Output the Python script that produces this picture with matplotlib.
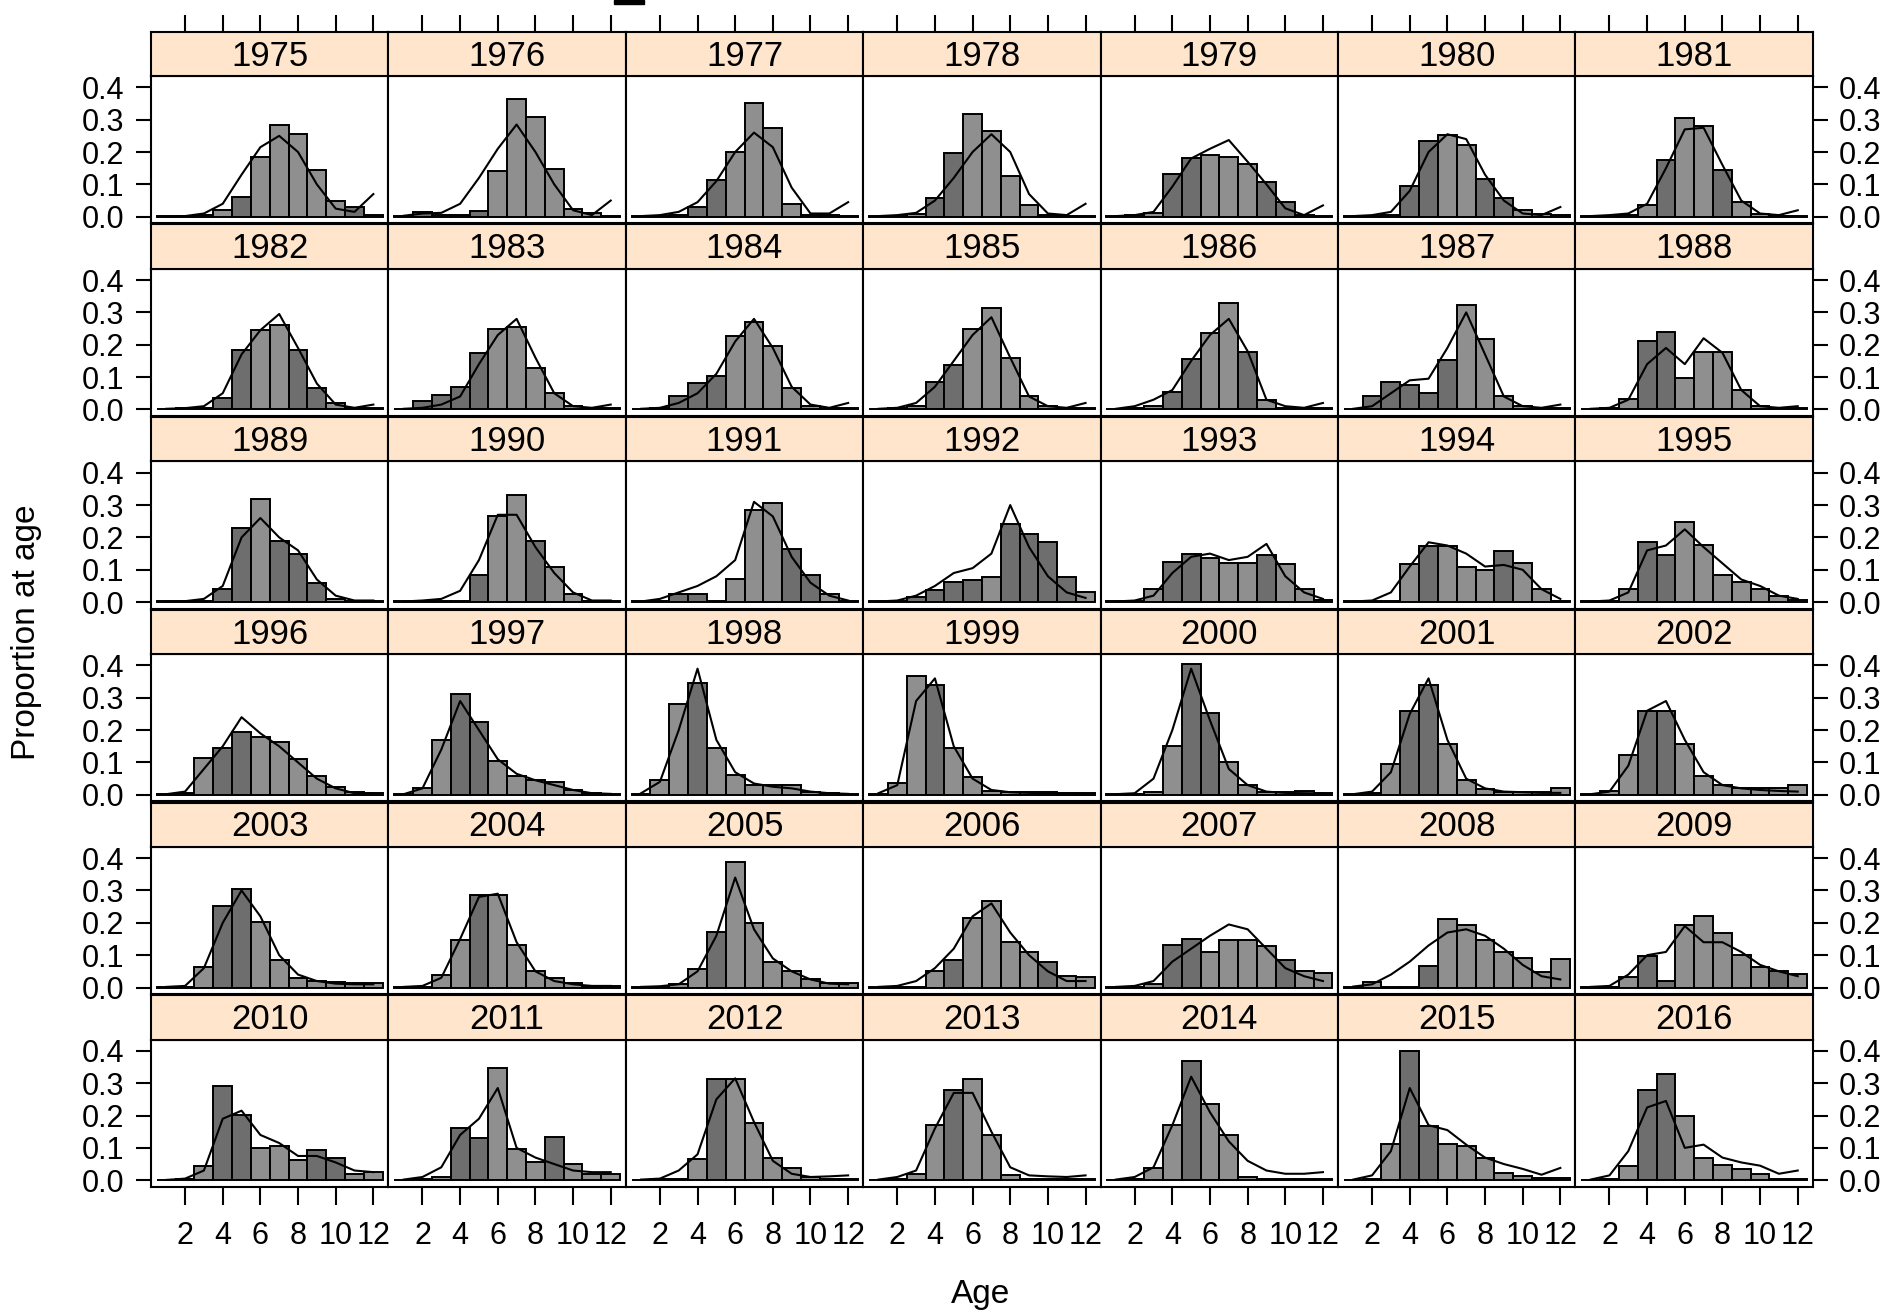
import numpy as np
import matplotlib
matplotlib.use("Agg")
import matplotlib.pyplot as plt
from matplotlib.patches import Rectangle

plt.rcParams['font.family'] = ['Liberation Sans', 'DejaVu Sans']

# ages 1..12, one row per year (observed proportion at age and model fit)
ages = np.arange(1, 13)
years = list(range(1975, 2017))

observed = [
    [0.003, 0.003, 0.005, 0.02, 0.06, 0.185, 0.285, 0.255, 0.145, 0.05, 0.03, 0.005],
    [0.003, 0.015, 0.005, 0.005, 0.018, 0.14, 0.365, 0.307, 0.146, 0.025, 0.01, 0.003],
    [0.002, 0.003, 0.005, 0.03, 0.113, 0.2, 0.352, 0.273, 0.04, 0.005, 0.005, 0.003],
    [0.002, 0.003, 0.008, 0.057, 0.196, 0.318, 0.266, 0.126, 0.036, 0.005, 0.003, 0.003],
    [0.002, 0.004, 0.012, 0.132, 0.182, 0.19, 0.186, 0.163, 0.108, 0.044, 0.005, 0.003],
    [0.002, 0.003, 0.005, 0.095, 0.233, 0.253, 0.222, 0.118, 0.057, 0.02, 0.008, 0.005],
    [0.002, 0.003, 0.004, 0.037, 0.174, 0.306, 0.279, 0.143, 0.044, 0.008, 0.003, 0.003],
    [0.002, 0.003, 0.005, 0.035, 0.185, 0.245, 0.26, 0.185, 0.065, 0.02, 0.005, 0.005],
    [0.002, 0.025, 0.045, 0.07, 0.175, 0.25, 0.255, 0.128, 0.05, 0.01, 0.005, 0.003],
    [0.002, 0.003, 0.043, 0.082, 0.103, 0.228, 0.27, 0.197, 0.067, 0.01, 0.005, 0.005],
    [0.002, 0.003, 0.01, 0.084, 0.138, 0.25, 0.313, 0.16, 0.043, 0.01, 0.003, 0.003],
    [0.002, 0.003, 0.01, 0.055, 0.155, 0.237, 0.328, 0.177, 0.029, 0.005, 0.003, 0.003],
    [0.002, 0.04, 0.085, 0.077, 0.05, 0.152, 0.323, 0.217, 0.04, 0.01, 0.005, 0.005],
    [0.002, 0.005, 0.033, 0.21, 0.238, 0.098, 0.177, 0.177, 0.06, 0.01, 0.005, 0.005],
    [0.002, 0.003, 0.005, 0.04, 0.23, 0.32, 0.19, 0.15, 0.058, 0.01, 0.005, 0.005],
    [0.002, 0.003, 0.003, 0.005, 0.085, 0.265, 0.33, 0.19, 0.11, 0.025, 0.005, 0.005],
    [0.002, 0.003, 0.025, 0.025, 0.005, 0.07, 0.285, 0.305, 0.165, 0.085, 0.025, 0.005],
    [0.002, 0.003, 0.015, 0.037, 0.062, 0.068, 0.078, 0.242, 0.21, 0.185, 0.078, 0.03],
    [0.002, 0.003, 0.04, 0.125, 0.15, 0.135, 0.12, 0.12, 0.145, 0.117, 0.042, 0.008],
    [0.002, 0.003, 0.003, 0.117, 0.173, 0.175, 0.11, 0.1, 0.158, 0.122, 0.04, 0.005],
    [0.002, 0.003, 0.04, 0.185, 0.145, 0.247, 0.178, 0.085, 0.062, 0.042, 0.02, 0.008],
    [0.002, 0.005, 0.115, 0.145, 0.195, 0.18, 0.163, 0.11, 0.057, 0.025, 0.008, 0.005],
    [0.002, 0.02, 0.17, 0.313, 0.225, 0.105, 0.057, 0.046, 0.039, 0.015, 0.005, 0.003],
    [0.002, 0.046, 0.28, 0.345, 0.144, 0.062, 0.029, 0.029, 0.029, 0.01, 0.005, 0.003],
    [0.002, 0.036, 0.368, 0.338, 0.146, 0.055, 0.012, 0.008, 0.008, 0.008, 0.005, 0.005],
    [0.002, 0.003, 0.008, 0.15, 0.404, 0.253, 0.103, 0.029, 0.008, 0.008, 0.012, 0.006],
    [0.002, 0.005, 0.095, 0.258, 0.338, 0.157, 0.046, 0.019, 0.008, 0.008, 0.008, 0.021],
    [0.002, 0.012, 0.122, 0.258, 0.26, 0.157, 0.057, 0.029, 0.02, 0.02, 0.02, 0.029],
    [0.002, 0.003, 0.065, 0.253, 0.305, 0.204, 0.085, 0.029, 0.02, 0.016, 0.013, 0.013],
    [0.002, 0.003, 0.04, 0.147, 0.287, 0.287, 0.132, 0.052, 0.029, 0.013, 0.005, 0.005],
    [0.002, 0.003, 0.01, 0.057, 0.173, 0.388, 0.2, 0.08, 0.052, 0.026, 0.013, 0.013],
    [0.002, 0.003, 0.003, 0.052, 0.085, 0.214, 0.268, 0.14, 0.111, 0.078, 0.037, 0.034],
    [0.002, 0.003, 0.01, 0.132, 0.15, 0.111, 0.147, 0.147, 0.127, 0.085, 0.05, 0.044],
    [0.002, 0.018, 0.003, 0.003, 0.068, 0.212, 0.194, 0.147, 0.109, 0.09, 0.047, 0.089],
    [0.002, 0.003, 0.034, 0.096, 0.019, 0.194, 0.22, 0.168, 0.101, 0.065, 0.05, 0.041],
    [0.002, 0.003, 0.043, 0.292, 0.203, 0.1, 0.107, 0.063, 0.092, 0.07, 0.02, 0.025],
    [0.002, 0.003, 0.01, 0.16, 0.13, 0.348, 0.097, 0.056, 0.133, 0.049, 0.018, 0.018],
    [0.002, 0.003, 0.003, 0.067, 0.314, 0.314, 0.177, 0.07, 0.039, 0.01, 0.005, 0.005],
    [0.002, 0.003, 0.02, 0.17, 0.28, 0.314, 0.139, 0.015, 0.005, 0.005, 0.005, 0.005],
    [0.002, 0.003, 0.039, 0.17, 0.37, 0.237, 0.139, 0.01, 0.003, 0.003, 0.003, 0.003],
    [0.002, 0.003, 0.113, 0.4, 0.168, 0.113, 0.105, 0.07, 0.023, 0.012, 0.008, 0.008],
    [0.002, 0.003, 0.043, 0.279, 0.328, 0.2, 0.07, 0.046, 0.036, 0.018, 0.005, 0.003],
]

fitted = [
    [0.0, 0.002, 0.01, 0.04, 0.13, 0.215, 0.25, 0.2, 0.1, 0.025, 0.015, 0.07],
    [0.003, 0.01, 0.012, 0.04, 0.12, 0.21, 0.285, 0.2, 0.1, 0.02, 0.005, 0.05],
    [0.002, 0.005, 0.015, 0.045, 0.11, 0.2, 0.26, 0.215, 0.09, 0.01, 0.01, 0.045],
    [0.002, 0.005, 0.012, 0.05, 0.12, 0.2, 0.255, 0.2, 0.07, 0.01, 0.005, 0.04],
    [0.002, 0.005, 0.015, 0.093, 0.18, 0.21, 0.237, 0.17, 0.1, 0.026, 0.005, 0.035],
    [0.002, 0.005, 0.015, 0.08, 0.2, 0.255, 0.24, 0.13, 0.05, 0.01, 0.005, 0.03],
    [0.002, 0.005, 0.01, 0.04, 0.15, 0.27, 0.275, 0.16, 0.05, 0.01, 0.005, 0.02],
    [0.002, 0.004, 0.01, 0.05, 0.17, 0.245, 0.295, 0.19, 0.08, 0.015, 0.005, 0.015],
    [0.002, 0.005, 0.015, 0.04, 0.14, 0.23, 0.28, 0.16, 0.05, 0.01, 0.005, 0.015],
    [0.002, 0.005, 0.02, 0.05, 0.11, 0.21, 0.28, 0.19, 0.07, 0.015, 0.005, 0.02],
    [0.002, 0.005, 0.02, 0.07, 0.15, 0.23, 0.285, 0.16, 0.04, 0.01, 0.005, 0.02],
    [0.002, 0.01, 0.03, 0.06, 0.15, 0.23, 0.28, 0.18, 0.03, 0.01, 0.005, 0.02],
    [0.002, 0.01, 0.05, 0.09, 0.095, 0.19, 0.3, 0.17, 0.04, 0.01, 0.005, 0.015],
    [0.002, 0.005, 0.03, 0.14, 0.19, 0.14, 0.22, 0.175, 0.06, 0.01, 0.005, 0.01],
    [0.002, 0.003, 0.01, 0.05, 0.2, 0.26, 0.2, 0.16, 0.07, 0.02, 0.005, 0.005],
    [0.002, 0.005, 0.01, 0.035, 0.13, 0.27, 0.27, 0.17, 0.09, 0.03, 0.005, 0.005],
    [0.002, 0.01, 0.03, 0.05, 0.08, 0.13, 0.31, 0.265, 0.14, 0.06, 0.02, 0.005],
    [0.002, 0.005, 0.02, 0.05, 0.09, 0.105, 0.15, 0.3, 0.17, 0.08, 0.03, 0.013],
    [0.002, 0.005, 0.02, 0.09, 0.14, 0.15, 0.13, 0.14, 0.18, 0.08, 0.03, 0.01],
    [0.002, 0.005, 0.03, 0.11, 0.185, 0.175, 0.15, 0.11, 0.115, 0.1, 0.04, 0.01],
    [0.002, 0.005, 0.03, 0.16, 0.175, 0.225, 0.17, 0.12, 0.07, 0.05, 0.02, 0.01],
    [0.002, 0.01, 0.08, 0.15, 0.24, 0.19, 0.15, 0.1, 0.05, 0.02, 0.005, 0.005],
    [0.002, 0.02, 0.14, 0.29, 0.2, 0.11, 0.065, 0.045, 0.03, 0.015, 0.005, 0.003],
    [0.005, 0.04, 0.2, 0.39, 0.17, 0.07, 0.035, 0.025, 0.02, 0.01, 0.005, 0.003],
    [0.005, 0.03, 0.29, 0.36, 0.15, 0.05, 0.015, 0.008, 0.006, 0.005, 0.004, 0.003],
    [0.002, 0.005, 0.05, 0.2, 0.39, 0.23, 0.08, 0.03, 0.01, 0.006, 0.005, 0.004],
    [0.002, 0.01, 0.07, 0.25, 0.36, 0.17, 0.05, 0.02, 0.01, 0.008, 0.006, 0.006],
    [0.002, 0.01, 0.09, 0.26, 0.29, 0.17, 0.07, 0.03, 0.02, 0.015, 0.012, 0.01],
    [0.002, 0.005, 0.06, 0.2, 0.3, 0.22, 0.1, 0.04, 0.02, 0.012, 0.01, 0.01],
    [0.002, 0.005, 0.03, 0.15, 0.28, 0.29, 0.14, 0.05, 0.02, 0.01, 0.005, 0.005],
    [0.002, 0.004, 0.01, 0.05, 0.16, 0.34, 0.18, 0.09, 0.05, 0.025, 0.012, 0.01],
    [0.002, 0.005, 0.02, 0.06, 0.12, 0.22, 0.26, 0.17, 0.1, 0.05, 0.02, 0.02],
    [0.002, 0.005, 0.02, 0.08, 0.12, 0.16, 0.195, 0.18, 0.12, 0.06, 0.035, 0.02],
    [0.003, 0.01, 0.04, 0.08, 0.13, 0.17, 0.18, 0.16, 0.12, 0.07, 0.035, 0.025],
    [0.002, 0.005, 0.04, 0.1, 0.11, 0.19, 0.14, 0.14, 0.11, 0.07, 0.05, 0.035],
    [0.001, 0.005, 0.03, 0.19, 0.215, 0.14, 0.115, 0.075, 0.075, 0.055, 0.03, 0.025],
    [0.002, 0.01, 0.04, 0.14, 0.19, 0.285, 0.1, 0.07, 0.05, 0.03, 0.025, 0.025],
    [0.002, 0.005, 0.03, 0.08, 0.25, 0.315, 0.18, 0.06, 0.02, 0.01, 0.012, 0.015],
    [0.002, 0.01, 0.03, 0.16, 0.27, 0.27, 0.15, 0.04, 0.015, 0.012, 0.01, 0.015],
    [0.002, 0.01, 0.04, 0.17, 0.32, 0.21, 0.12, 0.06, 0.03, 0.02, 0.02, 0.025],
    [0.002, 0.015, 0.09, 0.285, 0.17, 0.155, 0.11, 0.07, 0.05, 0.035, 0.017, 0.038],
    [0.002, 0.015, 0.09, 0.225, 0.245, 0.1, 0.11, 0.07, 0.055, 0.045, 0.02, 0.03],
]

# ages drawn in the darker grey in each panel
dark_ages = [
    [5, 11], [2, 5], [4, 5], [4, 5], [4, 5, 9, 10], [4, 5, 8, 9], [5, 8],
    [4, 5, 8, 9], [2, 3, 4, 5], [3, 4, 5], [4, 5], [4, 5, 8], [2, 3, 4, 5, 6], [4, 5],
    [4, 5, 7, 8, 9], [5, 8], [3, 4, 9, 10], [3, 4, 5, 6, 8, 9, 10, 11], [4, 5, 9], [5, 9], [4, 5],
    [4, 5], [4, 5], [4], [4], [5, 6], [4, 5], [4, 5],
    [4, 5], [5], [5], [5, 10], [4, 5, 10], [5], [4, 5, 11],
    [4, 5, 9, 10], [4, 5, 9], [5], [5], [5], [4, 5], [4, 5],
]

yticks = [0.0, 0.1, 0.2, 0.3, 0.4]
xticks = [2, 4, 6, 8, 10, 12]

W, H = 1895, 1312
fig = plt.figure(figsize=(W / 100, H / 100), dpi=100)
fig.patch.set_facecolor("white")

ncol, nrow = 7, 6
left0, pw = 151, 237.4
row_step = 192.7
strip_top0, panel_top0, panel_bot0 = 31.7, 76.0, 223.2
xlim = (0.19, 12.8)
ylim = (-0.02, 0.435)
lw = 1.5


def frac(x0, y0, x1, y1):
    return [x0 / W, 1 - y1 / H, (x1 - x0) / W, (y1 - y0) / H]


for i, yr in enumerate(years):
    r, c = divmod(i, ncol)
    x0 = left0 + c * pw
    x1 = x0 + pw
    st = strip_top0 + r * row_step
    pt = panel_top0 + r * row_step
    pb = panel_bot0 + r * row_step

    ax = fig.add_axes(frac(x0, pt, x1, pb))
    cols = ["#6e6e6e" if a in dark_ages[i] else "#8f8f8f" for a in ages]
    ax.bar(ages, observed[i], width=1.0, color=cols, edgecolor="black", linewidth=1.4, zorder=2)
    ax.plot(ages, fitted[i], color="black", linewidth=1.5, zorder=3)
    ax.set_xlim(*xlim)
    ax.set_ylim(*ylim)
    for s in ax.spines.values():
        s.set_linewidth(lw)
    ax.tick_params(axis="both", which="both", direction="out", length=11, width=lw,
                   labelsize=22, pad=8,
                   left=(c == 0), right=(c == ncol - 1),
                   labelleft=(c == 0), labelright=(c == ncol - 1),
                   bottom=(r == nrow - 1), labelbottom=(r == nrow - 1), top=False)
    ax.set_yticks(yticks)
    ax.set_yticklabels([f"{v:.1f}" for v in yticks])
    ax.set_xticks(xticks)
    ax.tick_params(axis="x", length=13, pad=12)

    sax = fig.add_axes(frac(x0, st, x1, pt))
    sax.set_facecolor("#ffe5cc")
    sax.set_xlim(*xlim)
    sax.set_ylim(0, 1)
    sax.set_yticks([])
    sax.set_xticks(xticks)
    sax.tick_params(axis="x", direction="out", length=12, width=lw,
                    bottom=False, labelbottom=False, top=(r == 0), labeltop=False)
    for s in sax.spines.values():
        s.set_linewidth(lw)
    sax.text(0.5, 0.45, str(yr), transform=sax.transAxes, ha="center", va="center",
             fontsize=25)

fig.text(981 / W, 1 - 1294 / H, "Age", ha="center", va="center", fontsize=24)
fig.text(27 / W, 1 - 632 / H, "Proportion at age", ha="center", va="center",
         rotation=90, fontsize=24)

# small black mark at the top edge of the page
fig.patches.append(Rectangle((614 / W, 1 - 4 / H), 30 / W, 4 / H,
                             transform=fig.transFigure, color="black"))

fig.savefig("out.png", dpi=100)
